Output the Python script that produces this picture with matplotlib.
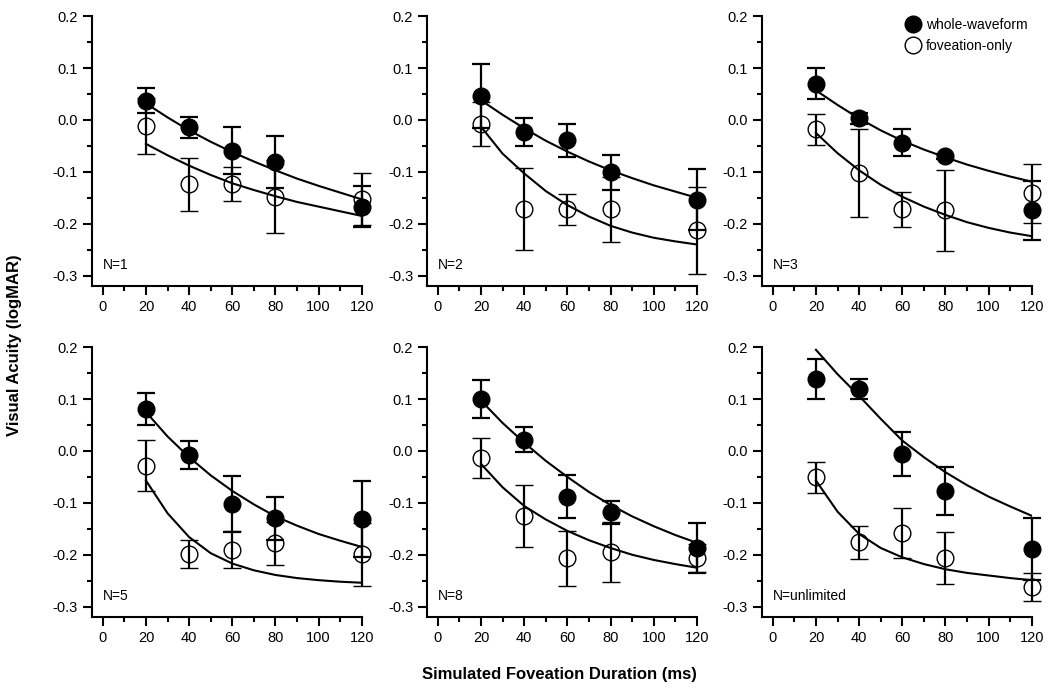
import matplotlib
matplotlib.use('Agg')
import matplotlib.pyplot as plt
from matplotlib.lines import Line2D
from matplotlib.ticker import MultipleLocator

plt.rcParams['font.family'] = ['Liberation Sans', 'DejaVu Sans']

durations = [20, 40, 60, 80, 120]
fit_x = [20, 30, 40, 50, 60, 70, 80, 90, 100, 110, 120]
panel_labels = ['N=1', 'N=2', 'N=3', 'N=5', 'N=8', 'N=unlimited']

# whole-waveform (filled) means and errors, one list per panel
whole_y = [
    [0.037, -0.014, -0.059, -0.081, -0.167],
    [0.046, -0.024, -0.039, -0.101, -0.154],
    [0.070, 0.003, -0.044, -0.070, -0.174],
    [0.081, -0.007, -0.102, -0.130, -0.131],
    [0.100, 0.022, -0.088, -0.118, -0.187],
    [0.139, 0.119, -0.006, -0.077, -0.189],
]
whole_err = [
    [0.024, 0.020, 0.045, 0.050, 0.039],
    [0.061, 0.027, 0.032, 0.034, 0.059],
    [0.030, 0.010, 0.026, 0.005, 0.057],
    [0.030, 0.027, 0.054, 0.042, 0.074],
    [0.037, 0.024, 0.042, 0.022, 0.048],
    [0.039, 0.019, 0.043, 0.046, 0.060],
]
# foveation-only (open) means and errors
fov_y = [
    [-0.012, -0.124, -0.124, -0.148, -0.152],
    [-0.008, -0.172, -0.172, -0.172, -0.213],
    [-0.018, -0.102, -0.172, -0.174, -0.141],
    [-0.028, -0.199, -0.190, -0.178, -0.199],
    [-0.014, -0.125, -0.207, -0.194, -0.206],
    [-0.051, -0.176, -0.158, -0.207, -0.263],
]
fov_err = [
    [0.054, 0.051, 0.033, 0.070, 0.050],
    [0.042, 0.079, 0.030, 0.063, 0.083],
    [0.030, 0.085, 0.034, 0.078, 0.057],
    [0.050, 0.027, 0.036, 0.042, 0.061],
    [0.039, 0.060, 0.053, 0.058, 0.027],
    [0.030, 0.032, 0.048, 0.050, 0.027],
]
# fitted curves at 10 ms steps
whole_fit = [
    [0.032, 0.005, -0.020, -0.042, -0.062, -0.080, -0.097, -0.113, -0.127, -0.140, -0.153],
    [0.038, 0.010, -0.016, -0.040, -0.061, -0.080, -0.097, -0.112, -0.126, -0.138, -0.150],
    [0.057, 0.029, 0.003, -0.020, -0.040, -0.057, -0.072, -0.086, -0.098, -0.109, -0.119],
    [0.075, 0.028, -0.012, -0.047, -0.077, -0.103, -0.126, -0.144, -0.160, -0.173, -0.185],
    [0.097, 0.054, 0.016, -0.019, -0.050, -0.079, -0.104, -0.126, -0.145, -0.162, -0.177],
    [0.195, 0.148, 0.106, 0.062, 0.020, -0.012, -0.041, -0.066, -0.088, -0.107, -0.125],
]
fov_fit = [
    [-0.046, -0.068, -0.088, -0.106, -0.122, -0.135, -0.147, -0.158, -0.167, -0.176, -0.185],
    [-0.013, -0.065, -0.103, -0.137, -0.164, -0.186, -0.204, -0.217, -0.227, -0.234, -0.240],
    [-0.025, -0.064, -0.097, -0.125, -0.148, -0.167, -0.183, -0.197, -0.208, -0.217, -0.224],
    [-0.057, -0.120, -0.166, -0.197, -0.217, -0.230, -0.239, -0.245, -0.249, -0.252, -0.254],
    [-0.025, -0.070, -0.106, -0.132, -0.154, -0.172, -0.187, -0.200, -0.210, -0.218, -0.225],
    [-0.057, -0.117, -0.160, -0.187, -0.205, -0.218, -0.228, -0.235, -0.240, -0.245, -0.249],
]

fig = plt.figure(figsize=(10.5, 6.9), dpi=100)
lefts = [0.0876, 0.4067, 0.7257]
bottoms = [0.5855, 0.1058]
w, h = 0.257, 0.391

for i in range(6):
    ax = fig.add_axes([lefts[i % 3], bottoms[i // 3], w, h])
    ax.plot(fit_x, whole_fit[i], color='black', lw=1.5)
    ax.plot(fit_x, fov_fit[i], color='black', lw=1.5)
    ax.errorbar(durations, fov_y[i], yerr=fov_err[i], fmt='o', ms=12, mfc='none',
                mec='black', mew=1.0, color='black', ecolor='black', elinewidth=1.6,
                capsize=6.5, capthick=1.6, clip_on=False)
    ax.errorbar(durations, whole_y[i], yerr=whole_err[i], fmt='o', ms=12, mfc='black',
                mec='black', color='black', ecolor='black', elinewidth=1.6,
                capsize=6.5, capthick=1.6, clip_on=False)

    ax.set_xlim(-5, 120)
    ax.set_ylim(-0.32, 0.2)
    ax.xaxis.set_minor_locator(MultipleLocator(10))
    ax.yaxis.set_minor_locator(MultipleLocator(0.05))
    ax.set_xticks([0, 20, 40, 60, 80, 100, 120])
    ax.set_yticks([0.2, 0.1, 0.0, -0.1, -0.2, -0.3])
    ax.set_yticklabels(['0.2', '0.1', '0.0', '-0.1', '-0.2', '-0.3'])
    ax.tick_params(which='major', direction='out', length=6.5, width=1.5, labelsize=10.5)
    ax.tick_params(which='minor', direction='out', length=3.5, width=1.5)
    for s in ['top', 'right']:
        ax.spines[s].set_visible(False)
    for s in ['left', 'bottom']:
        ax.spines[s].set_linewidth(1.5)
    ax.text(0, -0.28, panel_labels[i], fontsize=10, ha='left', va='center')

    if i == 2:
        handles = [
            Line2D([], [], ls='none', marker='o', ms=12, mfc='black', mec='black'),
            Line2D([], [], ls='none', marker='o', ms=12, mfc='none', mec='black', mew=1.0),
        ]
        ax.legend(handles, ['whole-waveform', 'foveation-only'], loc='upper right',
                  bbox_to_anchor=(1.03, 1.04), frameon=False, fontsize=10,
                  handletextpad=0.3, labelspacing=0.5, handlelength=1.2, numpoints=1)

fig.text(0.014, 0.5, 'Visual Acuity (logMAR)', rotation=90, fontsize=12,
         fontweight='bold', ha='center', va='center')
fig.text(0.533, 0.022, 'Simulated Foveation Duration (ms)', fontsize=12,
         fontweight='bold', ha='center', va='center')

fig.savefig('out.png', dpi=100)
